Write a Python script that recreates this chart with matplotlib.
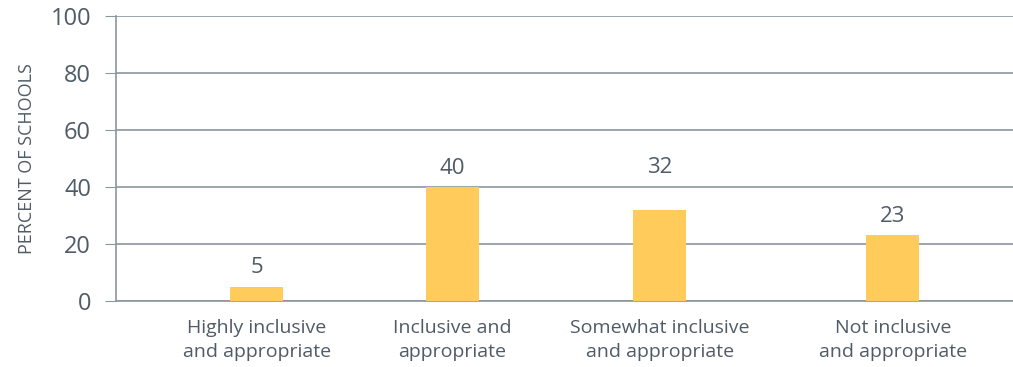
import matplotlib
matplotlib.use("Agg")
import matplotlib.pyplot as plt

categories = ["Highly inclusive\nand appropriate", "Inclusive and\nappropriate",
              "Somewhat inclusive\nand appropriate", "Not inclusive\nand appropriate"]
values = [5, 40, 32, 23]
yticks = [0, 20, 40, 60, 80, 100]

# bar centres as fraction of the plot width (spacing in the original is uneven)
xpos = [0.157, 0.375, 0.606, 0.866]
# label offsets above bars, in points (the "32" label sits higher in the original)
label_off = [6, 6, 23, 6]

plt.rcParams['font.family'] = ['Open Sans', 'DejaVu Sans']
text_c = '#4f5b66'
grid_c = '#8c969e'

fig = plt.figure(figsize=(10.13, 3.67), dpi=100)
ax = fig.add_axes([116 / 1013, 1 - 301 / 367, 897 / 1013, 285 / 367])

bars = ax.bar(xpos, values, width=0.059, color='#ffcc5c', zorder=3)
for b, v, off in zip(bars, values, label_off):
    ax.annotate(str(v), (b.get_x() + b.get_width() / 2, v), xytext=(0, off),
                textcoords='offset points', ha='center', va='bottom',
                fontsize=16, color=text_c)

ax.set_xlim(0, 1)
ax.set_ylim(0, 100)
ax.set_yticks(yticks)
ax.set_xticks(xpos)
ax.set_xticklabels(categories, fontsize=14, color=text_c, linespacing=1.45)
ax.tick_params(axis='x', length=0, pad=13)
ax.tick_params(axis='y', length=8, color=grid_c, labelsize=17, labelcolor=text_c, pad=10)
ax.yaxis.grid(True, color=grid_c, linewidth=1.2, zorder=0)
for s in ['top', 'right']:
    ax.spines[s].set_visible(False)
ax.spines['left'].set_color(grid_c)
ax.spines['bottom'].set_color(grid_c)
ax.spines['left'].set_linewidth(1.2)
ax.spines['bottom'].set_linewidth(1.2)
ax.set_ylabel('PERCENT OF SCHOOLS', fontsize=13, color=text_c, labelpad=10)

fig.savefig('out.png', dpi=100)
